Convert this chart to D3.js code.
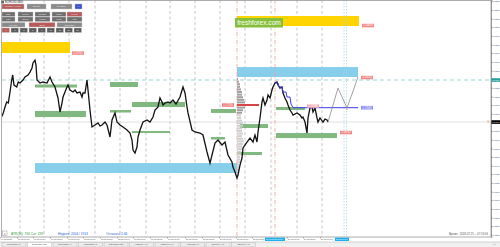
<!DOCTYPE html>
<html><head><meta charset="utf-8">
<script src="https://cdn.jsdelivr.net/npm/d3@7"></script>
<style>body{margin:0;background:#fff;overflow:hidden}svg{display:block;font-family:Arial,"Liberation Sans",sans-serif}</style>
</head><body><svg id="c" width="500" height="247"></svg>
<script>
// ---------- DATA ----------
const symbolTitle = "EURUSD,M30";
const priceBars = [1.7,3.3,5,6.7,8.3,10,11.7,12.7,14,16.7,18.3,20,23,25,28,30,32,33,35,36,37,40,43,47,50,52,55,58,60,62,63,65,67,68,70,73,75,77,80,82,83,85,87,88,90,92,95,98,100,102,105,107,110,112,115,117,120,123,127,130,132,133,135,137,138,140,143,147,150,153,155,158,160,162,163,165,168,170,173,176,180,183,185,187,188,192,195,200,203,207,210,212,215,218,222,225,228,232,233,235,237,238,240,242,243,247,250,253,255,257,258,260,262,263,265,267,268,270,272,273,275,277,278,280,282,283,285,287,288,290,292,293,297,300,302,303,305,307,308,310,312,313,315,317,318,320,323,325,327,328];
const priceValues = [1.16965,1.17008,1.17077,1.17135,1.17123,1.17250,1.17389,1.17447,1.17331,1.17308,1.17366,1.17354,1.17389,1.17424,1.17447,1.17481,1.17528,1.17586,1.17620,1.17562,1.17389,1.17354,1.17366,1.17354,1.17424,1.17366,1.17308,1.17181,1.17019,1.17123,1.17192,1.17250,1.17308,1.17331,1.17273,1.17250,1.17273,1.17239,1.17250,1.17192,1.17239,1.17239,1.17389,1.17273,1.17042,1.16846,1.16869,1.16892,1.16857,1.16869,1.16903,1.16869,1.16730,1.16927,1.17008,1.16903,1.16869,1.16846,1.16811,1.16776,1.16695,1.16580,1.16545,1.16614,1.16730,1.16811,1.16903,1.16927,1.16903,1.16961,1.17042,1.17077,1.17181,1.17135,1.17100,1.17123,1.17135,1.17123,1.17158,1.17112,1.17192,1.17308,1.17239,1.17077,1.17008,1.16811,1.16788,1.16776,1.16753,1.16557,1.16429,1.16522,1.16661,1.16695,1.16638,1.16672,1.16522,1.16441,1.16383,1.16325,1.16256,1.16291,1.16406,1.16487,1.16603,1.16672,1.16718,1.16672,1.16753,1.16672,1.16788,1.16950,1.17135,1.17181,1.17100,1.17158,1.17216,1.17181,1.17273,1.17308,1.17354,1.17366,1.17331,1.17296,1.17308,1.17239,1.17181,1.17135,1.17100,1.17042,1.17008,1.16984,1.17008,1.16984,1.16950,1.16961,1.16903,1.16776,1.16950,1.17065,1.17077,1.17019,1.17065,1.16950,1.16903,1.16950,1.16903,1.16938,1.16927,1.16903];

const projBars = [328,338,347,358];
const projPrices = [1.16903,1.17296,1.17065,1.17424];

const blueBars = [275,278,279,282,283,286,287,290,291,293,358];
const bluePrices = [1.17354,1.17354,1.17308,1.17308,1.17250,1.17250,1.17192,1.17192,1.17112,1.17069,1.17069];

const zoneStart  = [0,237,237,35, 35,35,110,110,132,132,211,211,240,237,276,276];
const zoneEnd    = [70,359,358,237, 77,86,138,131,185,170,236,225,268,262,305,337];
const zoneTop    = [1.17828,1.18129,1.17539,1.16429, 1.17337,1.17031,1.17366,1.17042,1.17135,1.16799,1.17054,1.16730,1.16880,1.16557,1.17077,1.16776];
const zoneBottom = [1.17701,1.18013,1.17424,1.16314, 1.17302,1.16961,1.17308,1.17013,1.17077,1.16776,1.17008,1.16701,1.16834,1.16522,1.17042,1.16718];
const zoneKind   = ["supply","supply","demand","demand","green","green","green","green","green","green","green","green","green","green","green","green"];

const profilePrices = [1.1740,1.1737,1.1734,1.1731,1.1728,1.1725,1.1722,1.1719,1.1716,1.1713,1.1710,1.1707,1.1704,1.1701,1.1698,1.1695,1.1692,1.1689,1.1686,1.1683,1.1680,1.1677,1.1674,1.1671,1.1668,1.1665,1.1662,1.1659,1.1656,1.1653,1.1650,1.1647,1.1644,1.1641,1.1638,1.1635,1.1632,1.1629];
const profileVolumes = [1,2,3,3,4,5,5,6,7,8,22,8,6,5,4,4,5,6,6,5,5,6,5,6,7,6,5,5,4,4,3,3,3,2,2,2,1,1];
const profileStartBar = 237;

const gridBars = [20,44,69,95,120,146,170,195,220,245,271,297,322];
const redVLineBars = [237,275];
const cyanVLineBars = [344,346.5];

const levelLabelBars   = [72,362,361,361,340,222,307];
const levelLabelPrices = [1.17701,1.18019,1.17418,1.17069,1.16782,1.17100,1.17088];
const levelLabelTexts  = ["1.17701","1.18019","1.17418","1.17069","1.16782","1.17100","1.17088"];
const levelLabelColors = ["#f08a8a","#f08a8a","#f08a8a","#8c8cf0","#f08a8a","#f07a7a","#f4b0b0"];

const pocPrice = 1.17100, pocEndBar = 259;
const cyanLevel = 1.17389;
const bidPrice = 1.16903;

const yTickValues = d3.range(1.1560, 1.18305, 0.001);

const timeLabelBars = [0,17,33,50,67,83,100,117,133,150,167,185,202,219,236,252,287,303,320];
const timeLabels = ["16 Jul 2018","16 Jul 16:00","17 Jul 00:00","17 Jul 08:00","17 Jul 16:00","18 Jul 00:00","18 Jul 08:00","18 Jul 16:00","19 Jul 00:00","19 Jul 08:00","19 Jul 16:00","20 Jul 00:00","20 Jul 08:00","20 Jul 16:00","23 Jul 00:00","23 Jul 08:00","24 Jul 00:00","24 Jul 08:00","24 Jul 16:00"];
const timeHighlightBars = [265,335];
const timeHighlightLabels = ["23 Jul 2018 15:30","25 Jul 07:00"];

const tabNames = ["EURUSD,H1","EURUSD,M30","EURUSD,H4","GBPUSD,H1","GBPUSD,M30","USDJPY,H1","USDCHF,H1","AUDUSD,H1","EURJPY,H1","GBPJPY,H1"];
const infoATR = "ATR(30): 734  Cur: 239";
const infoWeek = "Неделя: 2004 / 1913";
const infoLeft = "Осталось 2:46";
const infoTime = "Время : 2018.07.25 -- 07:13:06";

// ---------- SCALES ----------
const svg = d3.select("#c");
const plotL = 2, plotR = 491, plotT = 0, plotB = 237;
const x = d3.scaleLinear().domain([0, 491]).range([0, 491]);
const y = d3.scaleLinear().domain([1.18314, 1.15574]).range([0, 237]);

svg.append("rect").attr("width",500).attr("height",247).attr("fill","#fff");
svg.append("defs").append("clipPath").attr("id","pc").append("rect")
  .attr("x",plotL).attr("y",plotT).attr("width",plotR-plotL).attr("height",plotB-plotT);
const g = svg.append("g").attr("clip-path","url(#pc)");

// grid
g.selectAll(".grid").data(gridBars).join("line")
  .attr("x1",d=>x(d)).attr("x2",d=>x(d)).attr("y1",plotT).attr("y2",plotB)
  .attr("stroke","#b8b8b8").attr("stroke-width",0.8).attr("stroke-dasharray","3,2.5");

// horizontal lines
g.append("line").attr("x1",plotL).attr("x2",plotR).attr("y1",y(bidPrice)).attr("y2",y(bidPrice))
  .attr("stroke","#d8d8d8").attr("stroke-width",0.8);
g.append("line").attr("x1",plotL).attr("x2",plotR).attr("y1",y(cyanLevel)).attr("y2",y(cyanLevel))
  .attr("stroke","#8fd0d0").attr("stroke-width",0.9).attr("stroke-dasharray","4,3");

// zones
const zoneColor = {supply:"#ffd400", demand:"#87ceeb", green:"#80b880"};
g.selectAll(".zone").data(zoneStart.map((s,i)=>i)).join("rect")
  .attr("x",i=>x(zoneStart[i])).attr("width",i=>x(zoneEnd[i])-x(zoneStart[i]))
  .attr("y",i=>y(zoneTop[i])).attr("height",i=>y(zoneBottom[i])-y(zoneTop[i]))
  .attr("fill",i=>zoneColor[zoneKind[i]]);

// vertical special lines
g.selectAll(".rv").data(redVLineBars).join("line")
  .attr("x1",d=>x(d)).attr("x2",d=>x(d)).attr("y1",plotT).attr("y2",plotB)
  .attr("stroke","#f4a0a0").attr("stroke-width",0.8).attr("stroke-dasharray","4,1.5,1,1.5");
g.selectAll(".cv").data(cyanVLineBars).join("line")
  .attr("x1",d=>x(d)).attr("x2",d=>x(d)).attr("y1",plotT).attr("y2",plotB)
  .attr("stroke","#9fd8e8").attr("stroke-width",0.7).attr("stroke-dasharray","1.5,1.5");

// volume profile
const step = 0.0003;
g.selectAll(".vp").data(profilePrices.map((p,i)=>i)).join("rect")
  .attr("x",x(profileStartBar))
  .attr("width",i=>x(profileStartBar+profileVolumes[i])-x(profileStartBar))
  .attr("y",i=>y(profilePrices[i]+step/2)+0.3)
  .attr("height",i=>Math.max(0.8,y(profilePrices[i]-step/2)-y(profilePrices[i]+step/2)-0.6))
  .attr("fill",i=>profilePrices[i]>=1.1701?"#a0a0a0":"#cfcfcf");
g.append("line").attr("x1",x(profileStartBar)).attr("x2",x(pocEndBar))
  .attr("y1",y(pocPrice)).attr("y2",y(pocPrice)).attr("stroke","#e83030").attr("stroke-width",1.6);

// price line
const line = d3.line().x((d,i)=>x(priceBars[i])).y((d,i)=>y(priceValues[i])).curve(d3.curveLinear);
g.append("path").datum(priceValues).attr("d",line).attr("fill","none")
  .attr("stroke","#111").attr("stroke-width",1.3).attr("stroke-linejoin","miter");

// blue overlay
const bl = d3.line().x((d,i)=>x(blueBars[i])).y((d,i)=>y(bluePrices[i]));
g.append("path").datum(bluePrices).attr("d",bl).attr("fill","none").attr("stroke","#3a3af0").attr("stroke-width",1);

// projection
const pl = d3.line().x((d,i)=>x(projBars[i])).y((d,i)=>y(projPrices[i]));
g.append("path").datum(projPrices).attr("d",pl).attr("fill","none").attr("stroke","#8a8a8a").attr("stroke-width",0.8);

// level labels
const lab = g.selectAll(".ll").data(levelLabelBars.map((b,i)=>i)).join("g")
  .attr("transform",i=>`translate(${x(levelLabelBars[i])},${y(levelLabelPrices[i])})`);
lab.append("rect").attr("x",0).attr("y",-1.8).attr("width",12).attr("height",3.6).attr("fill",i=>levelLabelColors[i]);
lab.append("text").attr("x",6).attr("y",0).attr("dy","0.35em").attr("text-anchor","middle")
  .attr("font-size",2.6).attr("fill","#fff").text(i=>levelLabelTexts[i]);

// small markers
g.append("text").attr("x",x(347)).attr("y",y(1.17040)).attr("font-size",3).attr("fill","#e05050").attr("text-anchor","middle").text("2");
g.append("text").attr("x",x(488)).attr("y",y(bidPrice)+1).attr("font-size",3.5).attr("fill","#f08040").attr("text-anchor","middle").text("3");

// freshforex label
svg.append("rect").attr("x",235).attr("y",18).attr("width",48).attr("height",9.5).attr("fill","#86bf3c");
svg.append("text").attr("x",259).attr("y",22.8).attr("dy","0.35em").attr("text-anchor","middle")
  .attr("font-size",6.6).attr("fill","#fff").text("freshforex.com");

// frame
svg.append("rect").attr("x",1.5).attr("y",0.5).attr("width",plotR-1.5).attr("height",plotB-0.5)
  .attr("fill","none").attr("stroke","#9a9a9a").attr("stroke-width",0.8);

// right axis
const ya = d3.axisRight(y).tickValues(yTickValues).tickSize(1.5).tickPadding(0).tickFormat(d3.format(".4f"));
const ag = svg.append("g").attr("transform",`translate(${plotR},0)`).call(ya);
ag.select(".domain").attr("stroke","#888").attr("stroke-width",0.8);
ag.selectAll(".tick line").attr("stroke","#666").attr("stroke-width",0.5);
ag.selectAll(".tick text").attr("font-size",2.3).attr("fill","#444").attr("x",1.6);
// price tags
[[cyanLevel,"#2a9d9d"],[bidPrice,"#000"]].forEach(([p,c])=>{
  svg.append("rect").attr("x",plotR+0.5).attr("y",y(p)-1.8).attr("width",8.5).attr("height",3.6).attr("fill",c);
  svg.append("text").attr("x",plotR+1.2).attr("y",y(p)).attr("dy","0.35em").attr("font-size",2.3).attr("fill","#fff").text(d3.format(".4f")(p));
});

// time axis
svg.selectAll(".tl").data(timeLabels).join("text")
  .attr("x",(d,i)=>x(timeLabelBars[i])+1).attr("y",240).attr("font-size",2.1).attr("fill","#444").text(d=>d);
svg.selectAll(".tlt").data(timeLabelBars).join("line")
  .attr("x1",d=>x(d)+0.5).attr("x2",d=>x(d)+0.5).attr("y1",237).attr("y2",238.5).attr("stroke","#777").attr("stroke-width",0.5);
timeHighlightBars.forEach((b,i)=>{
  const w = i===0?20:14;
  svg.append("rect").attr("x",x(b)).attr("y",237.6).attr("width",w).attr("height",3.4).attr("fill","#1fb0ea");
  svg.append("text").attr("x",x(b)+1).attr("y",240.2).attr("font-size",2.1).attr("fill","#fff").text(timeHighlightLabels[i]);
});

// info texts
svg.append("rect").attr("x",2.5).attr("y",231).attr("width",4.5).attr("height",4.5).attr("fill","#fff").attr("stroke","#999").attr("stroke-width",0.5);
svg.append("text").attr("x",4.75).attr("y",234.6).attr("text-anchor","middle").attr("font-size",3).attr("fill","#666").text("x");
svg.append("text").attr("x",11).attr("y",235).attr("font-size",3.2).attr("fill","#2e9a2e").text(infoATR);
svg.append("text").attr("x",58).attr("y",235).attr("font-size",3.2).attr("fill","#2060e0").text(infoWeek);
svg.append("text").attr("x",106).attr("y",235).attr("font-size",3.2).attr("fill","#2060e0").text(infoLeft);
svg.append("text").attr("x",488).attr("y",235).attr("text-anchor","end").attr("font-size",2.8).attr("fill","#555").text(infoTime);

// title
svg.append("rect").attr("x",1.5).attr("y",1).attr("width",2.5).attr("height",2.5).attr("fill","#666");
svg.append("text").attr("x",5).attr("y",3.4).attr("font-size",2.8).attr("fill","#333").text(symbolTitle);

// button panel
const btnRows = [
  {y:4, h:5, items:[[2,24,"#b85a5a","Удалить уровни"],[27,46,"#8a8a8a","Скрыть"],[51,72,"#8a8a8a","Показать"],[75,82,"#3a4fd0","[+]"]]},
  {y:12,h:4.5,items:[[2,15,"#6f6f6f","Daily"],[18,33,"#6f6f6f","Weekly"],[35,50,"#6f6f6f","Monthly"],[52,66,"#6f6f6f","Trend"],[67,82,"#b85a5a","Levels"]]},
  {y:17,h:4.5,items:[[2,15,"#6f6f6f","Fibo"],[18,33,"#6f6f6f","Zones"],[35,50,"#6f6f6f","Volume"],[52,66,"#6f6f6f","Pivot"],[67,82,"#6f6f6f","Grid"]]},
  {y:22.5,h:4.5,items:[[2,25,"#8a8a8a","Left Side"],[29,55,"#b85a5a","Clear"],[57,82,"#8a8a8a","Right Side"]]},
  {y:28,h:4.5,items:[[2,9.5,"#b85a5a","1"],[11,18.5,"#5a5a5a","2"],[20,27.5,"#5a5a5a","3"],[29,36.5,"#5a5a5a","5"],[38,45.5,"#5a5a5a","7"],[47,54.5,"#5a5a5a","10"],[56,63.5,"#5a5a5a","15"],[65,72.5,"#5a5a5a","20"],[74,81.5,"#5a5a5a","30"]]}
];
btnRows.forEach(r=>{
  r.items.forEach(([a,b,c,t])=>{
    svg.append("rect").attr("x",a).attr("y",r.y).attr("width",b-a).attr("height",r.h).attr("fill",c)
      .attr("stroke","#c8c8c8").attr("stroke-width",0.4);
    svg.append("text").attr("x",(a+b)/2).attr("y",r.y+r.h/2).attr("dy","0.35em").attr("text-anchor","middle")
      .attr("font-size",2.2).attr("fill","#eee").text(t);
  });
});

// tabs
svg.append("rect").attr("x",0).attr("y",242).attr("width",500).attr("height",5).attr("fill","#f0f0f0");
svg.append("line").attr("x1",0).attr("x2",500).attr("y1",242).attr("y2",242).attr("stroke","#bbb").attr("stroke-width",0.6);
tabNames.forEach((t,i)=>{
  const tx = 2 + i*25.5;
  svg.append("rect").attr("x",tx).attr("y",242.5).attr("width",24).attr("height",4.5)
    .attr("fill",i===1?"#fff":"#ececec").attr("stroke","#b0b0b0").attr("stroke-width",0.4);
  svg.append("text").attr("x",tx+12).attr("y",245.3).attr("text-anchor","middle").attr("font-size",2.3).attr("fill","#555").text(t);
});
svg.append("text").attr("x",493).attr("y",246).attr("font-size",3).attr("fill","#777").text("‹ ›");
</script></body></html>
